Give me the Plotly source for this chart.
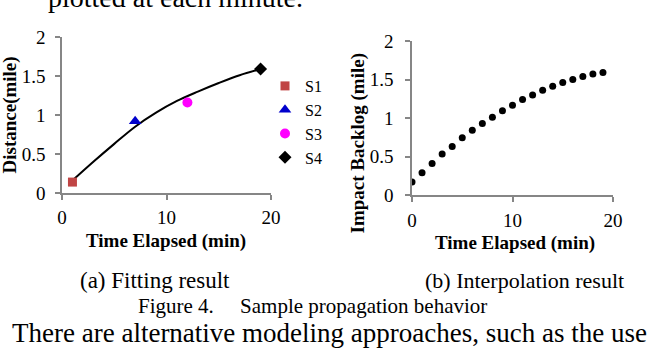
import plotly.graph_objects as go

# ---- data ----
sensor_names = ["S1", "S2", "S3", "S4"]
sensor_time = [1, 7, 12, 19]
sensor_dist = [0.14, 0.92, 1.16, 1.59]
sensor_symbols = ["square", "triangle-up", "circle", "diamond"]
sensor_colors = ["#C04545", "#0000CC", "#FF00FF", "#000000"]
sensor_sizes = [9, 11, 10, 10]

fit_time = [1, 3, 5, 7, 9, 11, 13, 15, 17, 19]
fit_dist = [0.16, 0.40, 0.63, 0.85, 1.03, 1.18, 1.30, 1.41, 1.51, 1.59]

interp_time = list(range(20))
interp_backlog = [0.168, 0.289, 0.41, 0.531, 0.631, 0.743, 0.842, 0.929, 1.011, 1.093,
                  1.166, 1.240, 1.300, 1.361, 1.413, 1.460, 1.499, 1.538, 1.572, 1.590]

x_ticks = [0, 10, 20]
y_ticks = [0, 0.5, 1, 1.5, 2]
y_ticktext = ["0", "0.5", "1", "1.5", "2"]

W, H = 654, 360
SERIF = "Liberation Serif, Times New Roman, Times, serif"
AXIS_GREY = "#868686"

def px(x):
    return x / W

def py(y):
    return 1 - y / H

fig = go.Figure()

# fitted curve (left)
fig.add_trace(go.Scatter(x=fit_time, y=fit_dist, mode="lines", line=dict(color="black", width=2, shape="spline"),
                         showlegend=False, xaxis="x", yaxis="y", hoverinfo="skip"))
# sensor points (left)
for i, name in enumerate(sensor_names):
    fig.add_trace(go.Scatter(x=[sensor_time[i]], y=[sensor_dist[i]], mode="markers", name=name,
                             marker=dict(symbol=sensor_symbols[i], color=sensor_colors[i],
                                         size=sensor_sizes[i], line=dict(width=0)),
                             xaxis="x", yaxis="y"))
# interpolation points (right)
fig.add_trace(go.Scatter(x=interp_time, y=interp_backlog, mode="markers",
                         marker=dict(symbol="circle", color="black", size=7),
                         showlegend=False, xaxis="x2", yaxis="y2"))

axis_common = dict(showline=True, linecolor=AXIS_GREY, linewidth=1.5, ticks="outside", ticklen=5,
                   tickcolor=AXIS_GREY, tickwidth=1.5, showgrid=False, zeroline=False,
                   automargin=False,
                   tickfont=dict(family=SERIF, size=19, color="black"))

fig.update_layout(
    template="none",
    width=W, height=H, margin=dict(l=0, r=0, t=0, b=0, pad=0),
    paper_bgcolor="white", plot_bgcolor="white",
    font=dict(family=SERIF, color="black"),
    xaxis=dict(domain=[px(62), px(271)], range=[0, 20], tickvals=x_ticks, anchor="y",
               ticklabelstandoff=1, **axis_common),
    yaxis=dict(domain=[py(193), py(37)], range=[0, 2], tickvals=y_ticks, ticktext=y_ticktext,
               anchor="x", ticklabelstandoff=6, **axis_common),
    xaxis2=dict(domain=[px(412), px(613)], range=[0, 20], tickvals=x_ticks, anchor="y2",
                ticklabelstandoff=2, **axis_common),
    yaxis2=dict(domain=[py(195), py(41)], range=[0, 2], tickvals=y_ticks, ticktext=y_ticktext,
                anchor="x2", ticklabelstandoff=8, **axis_common),
    legend=dict(x=px(265), y=py(69), xanchor="left", yanchor="top", bgcolor="rgba(0,0,0,0)",
                borderwidth=0,
                font=dict(family=SERIF, size=16, color="black"), tracegroupgap=0,
                itemsizing="trace"),
    showlegend=True,
)

def ann(text, x, y, size, bold=False, angle=0, xanchor="center", yanchor="middle"):
    fig.add_annotation(text=("<b>%s</b>" % text) if bold else text, x=px(x), y=py(y),
                       xref="paper", yref="paper", showarrow=False, textangle=angle,
                       xanchor=xanchor, yanchor=yanchor,
                       font=dict(family=SERIF, size=size, color="black"))

ann("Time Elapsed (min)", 166.5, 241, 19, bold=True)
ann("Time Elapsed (min)", 514.5, 242.5, 19, bold=True)
ann("Distance(mile)", 9.5, 115, 19, bold=True, angle=-90)
ann("Impact Backlog (mile)", 357, 143.5, 19, bold=True, angle=-90)

ann("plotted at each minute.", 46, -2.5, 28, xanchor="left")
ann("(a) Fitting result", 154.8, 280.2, 23)
ann("(b) Interpolation result", 524.7, 280.6, 22)
ann("Figure 4.&nbsp;&nbsp;&nbsp;&nbsp; Sample propagation behavior", 312.5, 306, 21)
ann("There are alternative modeling approaches, such as the use", 329, 333, 27)

# remove the default 8px page margin so the figure sits at the window's top-left corner
fig.write_html("out.html", config={"displayModeBar": False},
               post_script="document.body.style.margin='0px';")
